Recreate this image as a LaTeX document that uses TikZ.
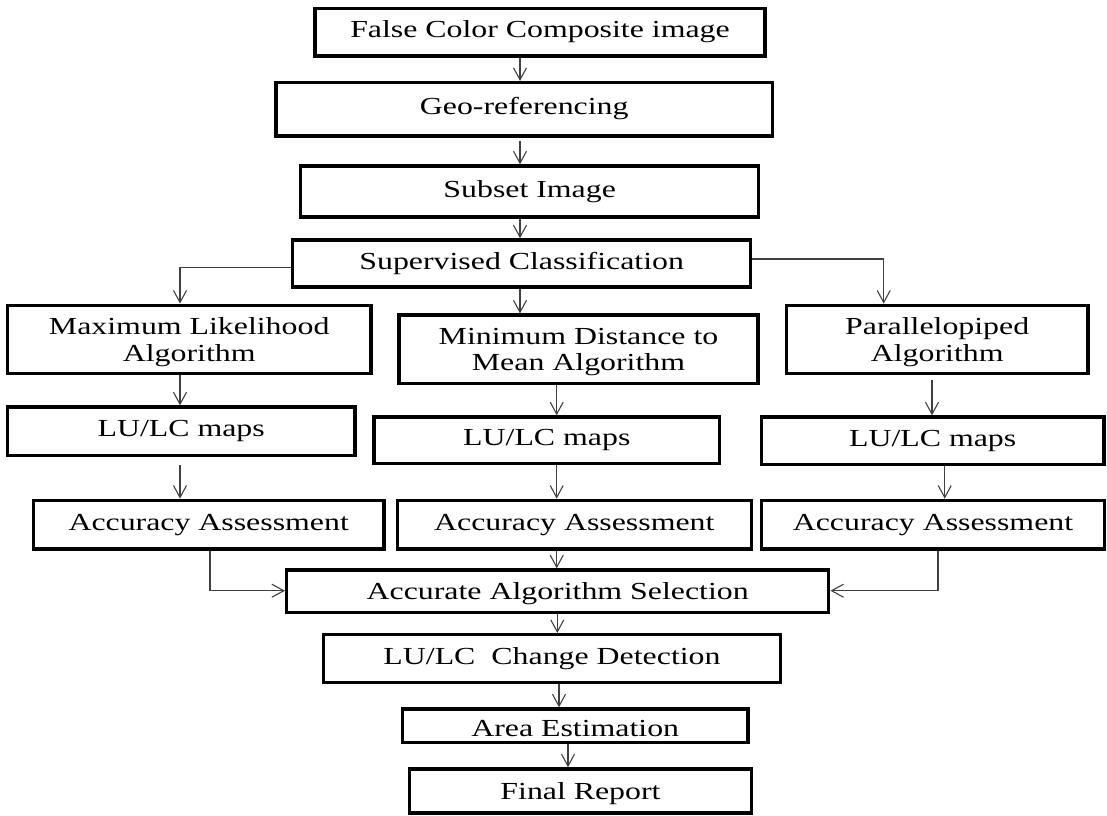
\documentclass[tikz,border=0pt]{standalone}
\usepackage{fontspec}
\setmainfont{Liberation Serif}[FakeStretch=1.30]
\usetikzlibrary{arrows.meta}
\begin{document}
\begin{tikzpicture}[x=1pt,y=-1pt,
  box/.style={draw=black, line width=3.4pt, inner sep=0pt,
    font=\fontsize{24.5pt}{26.7pt}\selectfont},
  oneline/.style={box, text height=16.5pt, text depth=5.5pt},
  lowline/.style={box, text height=21.5pt, text depth=5.5pt},
  twoline/.style={box, align=center, text depth=0pt},
  sz/.style 2 args={minimum width=#1pt, minimum height=#2pt},
  conn/.style={draw=black!75, line width=1.1pt,
    -{Straight Barb[length=12pt,width=13pt]}},
]
\useasboundingbox (0,0) rectangle (1107,815);

% main chain
\node[oneline, sz={449.7}{47.7}] (fcc) at (540,32.2) {False Color Composite image};
\node[oneline, sz={496.3}{53.3}] (geo) at (524.2,109.3) {Geo-referencing};
\node[oneline, sz={458}{51}] (sub) at (529.7,191.5) {Subset Image};
\node[oneline, sz={458}{47}] (sup) at (521.7,263.5) {Supervised Classification};

% three classifiers
\node[twoline, sz={363.7}{68.4}] (ml) at (189.2,339.5) {Maximum Likelihood\\Algorithm};
\node[twoline, sz={359}{68.3}] (md) at (578.5,349.3) {Minimum Distance to\\Mean Algorithm};
\node[twoline, sz={301.7}{68.4}] (par) at (937.2,339.5) {Parallelopiped\\Algorithm};

\node[oneline, sz={347.7}{48.3}] (lul) at (181.2,431.2) {LU/LC maps};
\node[oneline, sz={345.7}{46.7}] (lum) at (546.8,440.3) {LU/LC maps};
\node[oneline, sz={342.7}{47.3}] (lur) at (932.7,440.7) {LU/LC maps};

\node[oneline, sz={350.7}{48.7}] (accl) at (208.7,524.7) {Accuracy Assessment};
\node[oneline, sz={354}{48.7}] (accm) at (574.3,524.7) {Accuracy Assessment};
\node[oneline, sz={343.4}{48.7}] (accr) at (933,524.7) {Accuracy Assessment};

% final chain
\node[lowline, sz={542}{42.3}] (sel) at (557.7,591.2) {Accurate Algorithm Selection};
\node[oneline, sz={457.3}{47.6}] (lucd) at (552,658.5) {LU/LC\hspace{16pt}Change Detection};
\node[box, text height=27pt, text depth=5pt, sz={345.7}{33.3}] (area) at (575.2,725.7) {Area Estimation};
\node[lowline, sz={341.6}{44}] (final) at (580.5,791) {Final Report};

% connector columns and rows
\coordinate (xa) at (520,0);
\coordinate (xl) at (180,0);
\coordinate (xr) at (883.7,0);
\coordinate (xm) at (556.7,0);
\coordinate (xp) at (932,0);
\coordinate (xq) at (944.7,0);
\coordinate (xs) at (210,0);
\coordinate (xt) at (938,0);
\coordinate (xu) at (557.3,0);
\coordinate (xv) at (559,0);
\coordinate (xw) at (568,0);
\coordinate (ya) at (0,267.7);
\coordinate (yb) at (0,259);
\coordinate (yc) at (0,590.7);

\draw[conn] (fcc.south -| xa) -- (geo.north -| xa);
\draw[conn, shorten <=3pt] (geo.south -| xa) -- (sub.north -| xa);
\draw[conn] (sub.south -| xa) -- (sup.north -| xa);
\draw[conn] (sup.west |- ya) -| (ml.north -| xl);
\draw[conn] (sup.south -| xa) -- (md.north -| xa);
\draw[conn] (sup.east |- yb) -| (par.north -| xr);
\draw[conn] (ml.south -| xl) -- (lul.north -| xl);
\draw[conn] (md.south -| xm) -- (lum.north -| xm);
\draw[conn, shorten <=5pt] (par.south -| xp) -- (lur.north -| xp);
\draw[conn, shorten <=8pt] (lul.south -| xl) -- (accl.north -| xl);
\draw[conn] (lum.south -| xm) -- (accm.north -| xm);
\draw[conn] (lur.south -| xq) -- (accr.north -| xq);
\draw[conn] (accl.south -| xs) |- (sel.west |- yc);
\draw[conn] (accm.south -| xm) -- (sel.north -| xm);
\draw[conn] (accr.south -| xt) |- (sel.east |- yc);
\draw[conn] (sel.south -| xu) -- (lucd.north -| xu);
\draw[conn] (lucd.south -| xv) -- (area.north -| xv);
\draw[conn] (area.south -| xw) -- (final.north -| xw);
\end{tikzpicture}
\end{document}
